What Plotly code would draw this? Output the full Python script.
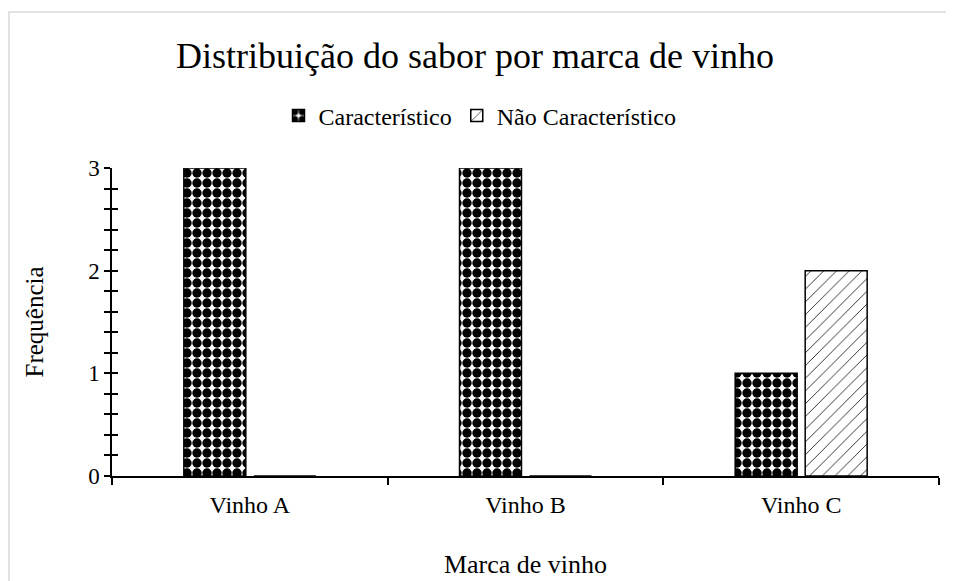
import plotly.graph_objects as go

categories = ["Vinho A", "Vinho B", "Vinho C"]
caracteristico = [3, 3, 1]
nao_caracteristico = [0, 0, 2]
series_names = ["Característico", "Não Característico"]
title_text = "Distribuição do sabor por marca de vinho"
x_title = "Marca de vinho"
y_title = "Frequência"

FONT = "Liberation Serif, Times New Roman, serif"

W, H = 946, 573
L, R, T, B = 104, 15, 160, 105
PW, PH = W - L - R, H - T - B

fig = go.Figure()
fig.add_trace(go.Bar(
    x=categories, y=caracteristico, name=series_names[0],
    marker=dict(color="white", line=dict(color="black", width=1.5),
                pattern=dict(shape=".", fgcolor="black", bgcolor="white",
                             size=10, solidity=0.7, fillmode="replace")),
))
fig.add_trace(go.Bar(
    x=categories, y=nao_caracteristico, name=series_names[1],
    marker=dict(color="white", line=dict(color="black", width=1.5),
                pattern=dict(shape="/", fgcolor="#222222", bgcolor="white",
                             size=9, solidity=0.1, fillmode="replace")),
))
# overlay axis to make y ticks cross the axis line
fig.add_trace(go.Scatter(x=[None], y=[None], yaxis="y2", showlegend=False, hoverinfo="skip"))

fig.update_layout(
    width=W, height=H,
    paper_bgcolor="white", plot_bgcolor="white",
    font=dict(family=FONT, color="black", size=23),
    title=dict(text=title_text, x=(475 - 8) / W, xanchor="center", y=1 - 47 / H, yanchor="middle",
               font=dict(family=FONT, size=36, color="black")),
    legend=dict(orientation="h", x=(480 - 112) / PW, xanchor="center", y=(H - B - 108) / PH,
                yanchor="middle", font=dict(family=FONT, size=24), itemwidth=30,
                traceorder="normal"),
    margin=dict(l=L, r=R, t=T, b=B),
    barmode="group", bargap=0.492, bargroupgap=0.115,
    xaxis=dict(
        showline=True, linecolor="black", linewidth=1.5, automargin=False,
        ticks="outside", ticklen=7, tickcolor="black", tickwidth=1.5,
        tickson="boundaries", showgrid=False, ticklabelstandoff=6,
        title=dict(text=x_title, font=dict(family=FONT, size=26), standoff=38),
        tickfont=dict(family=FONT, size=24),
    ),
    yaxis=dict(
        range=[0, 3], dtick=1, showline=True, linecolor="black", linewidth=1.5,
        automargin=False,
        ticks="outside", ticklen=6, tickcolor="black", tickwidth=1.5,
        minor=dict(dtick=0.2, ticks="outside", ticklen=6, tickcolor="black", tickwidth=1.5),
        showgrid=False, zeroline=False,
        title=dict(text=y_title, font=dict(family=FONT, size=25), standoff=37),
        tickfont=dict(family=FONT, size=23),
    ),
    yaxis2=dict(
        range=[0, 3], dtick=1, overlaying="y", side="left", anchor="x",
        automargin=False,
        ticks="inside", ticklen=6, tickcolor="black", tickwidth=1.5,
        minor=dict(dtick=0.2, ticks="inside", ticklen=6, tickcolor="black", tickwidth=1.5),
        showticklabels=False, showgrid=False, zeroline=False, showline=False,
    ),
    shapes=[dict(type="rect", xref="paper", yref="paper",
                 x0=(1 - L) / PW, x1=(W + 10 - L) / PW,
                 y0=(H - B - (H + 20)) / PH, y1=(H - B - 4) / PH,
                 line=dict(color="#d9d9d9", width=1.5), fillcolor="rgba(0,0,0,0)",
                 layer="below")],
)

fig.write_html("out.html")
